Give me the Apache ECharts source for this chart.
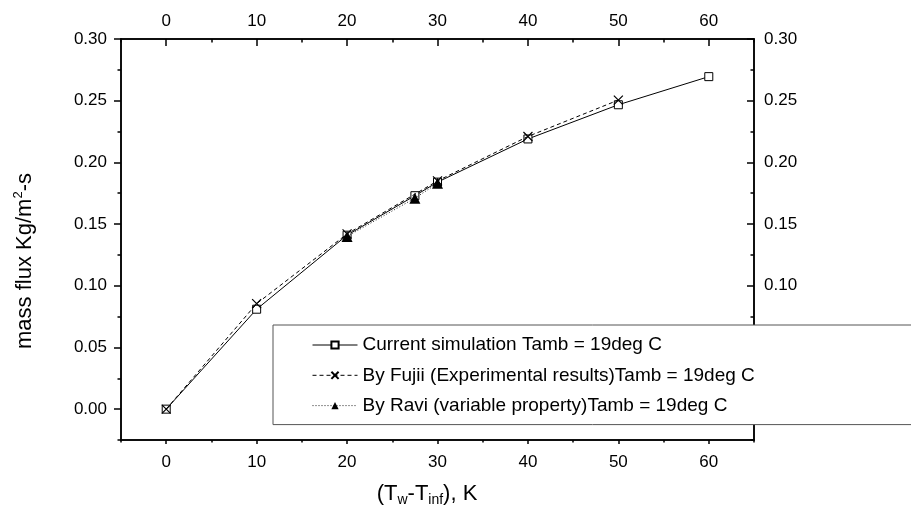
<!DOCTYPE html>
<html>
<head>
<meta charset="utf-8">
<title>mass flux vs temperature difference</title>
<script src="https://cdn.jsdelivr.net/npm/echarts@6/dist/echarts.min.js"></script>
<style>
  html, body { margin: 0; padding: 0; background: #fff; }
  #chart { width: 911px; height: 506px; }
</style>
</head>
<body>
<div id="chart"></div>
<script>
// Temperature difference (K) and mass flux (kg/m^2-s) for each data set
const simX = [0, 10, 20, 27.5, 30, 40, 50, 60];
const simY = [0.000, 0.081, 0.141, 0.173, 0.184, 0.219, 0.2467, 0.2695];

const fujiiX = [0, 10, 20, 30, 40, 50];
const fujiiY = [0.000, 0.0855, 0.142, 0.185, 0.221, 0.2505];

const raviX = [20, 27.5, 30];
const raviY = [0.140, 0.171, 0.183];

const seriesNames = [
  'Current simulation Tamb = 19deg C',
  'By Fujii (Experimental results)Tamb = 19deg C',
  'By Ravi (variable property)Tamb = 19deg C'
];

// Axis ticks
const xMajor = [0, 10, 20, 30, 40, 50, 60];
const xMinor = [-5, 5, 15, 25, 35, 45, 55, 65];
const yMajor = [0, 0.05, 0.10, 0.15, 0.20, 0.25, 0.30];
const yMinor = [-0.025, 0.025, 0.075, 0.125, 0.175, 0.225, 0.275];

const FONT = "'Liberation Sans', Arial, Helvetica, sans-serif";
const BLACK = '#000';

const pairs = (xs, ys) => xs.map((x, i) => [x, ys[i]]);

function axisDef(range, position, ticks, len, inside, labels, margin, fmt) {
  const label = labels
    ? { show: true, customValues: labels, margin: margin,
        fontSize: 17, fontFamily: FONT, color: BLACK }
    : { show: false };
  if (labels && fmt) label.formatter = fmt;
  return {
    type: 'value', min: range[0], max: range[1], position: position,
    axisLine: { show: true, onZero: false, lineStyle: { color: BLACK, width: 1.5 } },
    axisTick: { show: true, inside: inside, length: len, customValues: ticks,
                lineStyle: { color: BLACK, width: 1.5 } },
    axisLabel: label,
    splitLine: { show: false }
  };
}

const X_RANGE = [-5, 65];
const Y_RANGE = [-0.025, 0.30];
const yFmt = v => v.toFixed(2);

const chart = echarts.init(document.getElementById('chart'), null, { renderer: 'canvas' });

chart.setOption({
  animation: false,
  backgroundColor: '#fff',
  grid: { left: 121, right: 157, top: 39, bottom: 66 },
  xAxis: [
    axisDef(X_RANGE, 'bottom', xMajor, 4, false, xMajor, 14),
    axisDef(X_RANGE, 'bottom', xMinor, 2.5, false, null, 0),
    axisDef(X_RANGE, 'top', xMajor, 7, true, xMajor, 9),
    axisDef(X_RANGE, 'top', xMinor, 3.5, true, null, 0)
  ],
  yAxis: [
    axisDef(Y_RANGE, 'left', yMajor, 7, false, yMajor, 14, yFmt),
    axisDef(Y_RANGE, 'left', yMinor, 3.5, false, null, 0),
    axisDef(Y_RANGE, 'right', yMajor, 7, true, yMajor, 10, yFmt),
    axisDef(Y_RANGE, 'right', yMinor, 3.5, true, null, 0)
  ],
  legend: {
    orient: 'vertical',
    left: 273, top: 325,
    data: seriesNames,
    selectedMode: false,
    itemWidth: 45, itemHeight: 9, itemGap: 10.3,
    padding: [10, 400, 9, 39],
    backgroundColor: '#fff',
    borderColor: '#555', borderWidth: 1,
    lineStyle: { width: 1 },
    textStyle: { fontSize: 19, fontFamily: FONT, color: BLACK, lineHeight: 20 }
  },
  graphic: [
    {
      type: 'text', x: 25, y: 261, rotation: Math.PI / 2,
      style: {
        text: '{n|mass flux Kg/m}{s|2}{n|-s}',
        align: 'center', verticalAlign: 'middle',
        rich: {
          n: { fontSize: 22, fontFamily: FONT, fill: BLACK, lineHeight: 26 },
          s: { fontSize: 13, fontFamily: FONT, fill: BLACK, lineHeight: 26, verticalAlign: 'top' }
        }
      }
    },
    {
      type: 'text', x: 427, y: 494,
      style: {
        text: '{n|(T}{b|w}{n|-T}{b|inf}{n|), K}',
        align: 'center', verticalAlign: 'middle',
        rich: {
          n: { fontSize: 22, fontFamily: FONT, fill: BLACK, lineHeight: 26 },
          b: { fontSize: 14, fontFamily: FONT, fill: BLACK, lineHeight: 26, verticalAlign: 'bottom' }
        }
      }
    }
  ],
  series: [
    {
      name: seriesNames[0], type: 'line', data: pairs(simX, simY),
      xAxisIndex: 0, yAxisIndex: 0,
      symbol: 'rect', symbolSize: 8,
      lineStyle: { color: BLACK, width: 1, type: 'solid' },
      itemStyle: { color: '#fff', borderColor: BLACK, borderWidth: 1 },
      z: 2
    },
    {
      name: seriesNames[2], type: 'line', data: pairs(raviX, raviY),
      xAxisIndex: 0, yAxisIndex: 0,
      symbol: 'triangle', symbolSize: 11,
      lineStyle: { color: '#222', width: 1, type: [1, 2] },
      itemStyle: { color: BLACK, borderColor: BLACK, borderWidth: 0 },
      z: 3
    },
    {
      name: seriesNames[1], type: 'line', data: pairs(fujiiX, fujiiY),
      xAxisIndex: 0, yAxisIndex: 0,
      symbol: 'path://M0,0L10,10M10,0L0,10', symbolSize: 9,
      lineStyle: { color: BLACK, width: 1, type: [4, 3] },
      itemStyle: { color: 'none', borderColor: BLACK, borderWidth: 1.2 },
      z: 4
    }
  ]
});
</script>
</body>
</html>
